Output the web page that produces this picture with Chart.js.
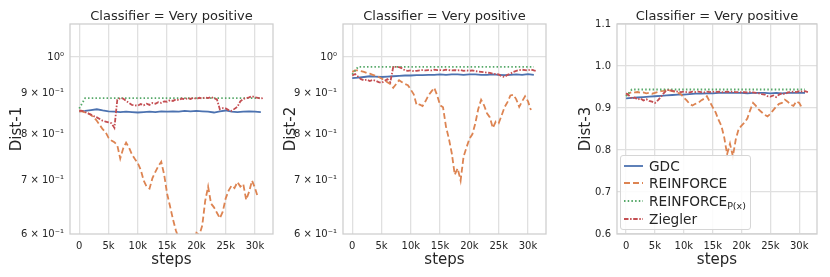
<!DOCTYPE html>
<html>
<head>
<meta charset="utf-8">
<script src="https://cdn.jsdelivr.net/npm/chart.js@4.4.1/dist/chart.umd.min.js"></script>
<style>
    body { margin: 0; background: #fff; }
    #wrap { position: relative; width: 830px; height: 277px; font-family: 'DejaVu Sans', sans-serif; color: #262626; }
    .panel { position: absolute; top: 0; }
    #legend { position: absolute; left: 620px; top: 155px; width: 131px; height: 75px; box-sizing: border-box;
              border: 1px solid #d6d6d6; border-radius: 3px; background: rgba(255,255,255,0.85); }
    .row { position: absolute; left: 0; height: 18px; line-height: 18px; font-size: 13.7px; white-space: nowrap; }
    .row svg { position: absolute; left: 3px; top: 4px; }
    .row span { position: absolute; left: 28px; }
    .row sub { font-size: 9.5px; vertical-align: -3px; }
</style>
</head>
<body>
<div id="wrap">
    <div class="panel" style="left:0"><canvas id="dist1" width="280" height="277"></canvas></div>
    <div class="panel" style="left:280px"><canvas id="dist2" width="280" height="277"></canvas></div>
    <div class="panel" style="left:560px"><canvas id="dist3" width="270" height="277"></canvas></div>
    <div id="legend">
        <div class="row" style="top:1px"><svg width="20" height="10"><line x1="0" y1="5" x2="19" y2="5" stroke="#4c72b0" stroke-width="1.8"/></svg><span>GDC</span></div>
        <div class="row" style="top:18px"><svg width="20" height="10"><line x1="0" y1="5" x2="19" y2="5" stroke="#dd8452" stroke-width="1.8" stroke-dasharray="6,3"/></svg><span>REINFORCE</span></div>
        <div class="row" style="top:36px"><svg width="20" height="10"><line x1="0" y1="5" x2="19" y2="5" stroke="#55a868" stroke-width="1.8" stroke-dasharray="1.5,2.2"/></svg><span>REINFORCE<sub>P(x)</sub></span></div>
        <div class="row" style="top:54px"><svg width="20" height="10"><line x1="0" y1="5" x2="19" y2="5" stroke="#c44e52" stroke-width="1.8" stroke-dasharray="4.5,1.6,1.5,1.6"/></svg><span>Ziegler</span></div>
    </div>
</div>
<script>
Chart.defaults.font.family = "'DejaVu Sans', sans-serif";
Chart.defaults.color = '#262626';

// steps
const stepsFine = [0,500,1000,1500,2000,2500,3000,3500,4000,4500,5000,5500,6000,6500,7000,7500,8000,8500,9000,9500,
    10000,10500,11000,11500,12000,12500,13000,13500,14000,14500,15000,15500,16000,16500,17000,17500,18000,18500,19000,19500,
    20000,20500,21000,21500,22000,22500,23000,23500,24000,24500,25000,25500,26000,26500,27000,27500,28000,28500,29000,29500,
    30000,30500,31000,31500];
const stepsCoarse = [0,1000,2000,3000,4000,5000,6000,7000,8000,9000,10000,11000,12000,13000,14000,15000,
    16000,17000,18000,19000,20000,21000,22000,23000,24000,25000,26000,27000,28000,29000,30000,31000];

const xTicks = [0, 5000, 10000, 15000, 20000, 25000, 30000];
const xTickLabels = ['0', '5k', '10k', '15k', '20k', '25k', '30k'];
const logTicks = [0.6, 0.7, 0.8, 0.9, 1.0];
const logTickLabels = ['6 × 10⁻¹', '7 × 10⁻¹', '8 × 10⁻¹', '9 × 10⁻¹', '10⁰'];
const linTicks = [0.6, 0.7, 0.8, 0.9, 1.0, 1.1];
const linTickLabels = ['0.6', '0.7', '0.8', '0.9', '1.0', '1.1'];

// Dist-1
const dist1Gdc = [.855,.856,.858,.860,.857,.855,.854,.853,.854,.853,.852,.853,.854,.853,.855,.854,
    .855,.854,.856,.855,.856,.855,.854,.852,.855,.857,.854,.853,.854,.855,.854,.853];
const dist1Reinforce = [.855,.855,.852,.850,.846,.840,.832,.822,.812,.805,
    .792,.786,.782,.775,.746,.768,.781,.770,.755,.745,
    .736,.722,.700,.688,.684,.705,.718,.730,.739,.712,
    .674,.650,.626,.606,.592,.580,.565,.555,.565,.585,
    .602,.598,.615,.660,.688,.655,.648,.638,.628,.640,
    .665,.680,.690,.685,.697,.688,.693,.662,.678,.700,
    .685,.667];
const dist1Px = [.862,.888,.888,.888,.888,.888,.888,.888,.888,.888,.888,.888,.888,.888,.888,.888,
    .888,.888,.888,.888,.888,.888,.888,.888,.888,.888,.888,.888,.888,.888,.888,.888];
const dist1Ziegler = [.857,.856,.853,.850,.847,.843,.840,.836,.832,.830,
    .828,.826,.815,.884,.888,.887,.881,.876,.871,.870,
    .869,.873,.870,.874,.871,.876,.874,.878,.876,.880,
    .879,.883,.881,.885,.883,.887,.885,.888,.886,.889,
    .886,.889,.887,.890,.888,.891,.888,.885,.860,.863,
    .862,.858,.856,.861,.866,.880,.886,.888,.890,.893,
    .890,.889,.887,.889];

// Dist-2
const dist2Gdc = [.941,.942,.944,.946,.945,.944,.945,.946,.947,.948,.948,.949,.949,.950,.950,.951,
    .950,.951,.951,.950,.951,.951,.950,.950,.951,.950,.949,.950,.951,.950,.952,.950];
const dist2Reinforce = [.958,.962,.962,.960,.958,.955,.953,.950,.947,.944,
    .940,.935,.930,.925,.915,.925,.935,.930,.925,.922,
    .910,.898,.870,.872,.868,.880,.895,.905,.915,.895,
    .870,.865,.818,.790,.757,.712,.725,.700,.750,.770,
    .790,.800,.825,.860,.884,.870,.850,.840,.815,.830,
    .826,.845,.865,.878,.895,.897,.885,.866,.880,.893,
    .880,.858];
const dist2Px = [.951,.972,.972,.972,.972,.972,.972,.972,.972,.972,.972,.972,.972,.972,.972,.972,
    .972,.972,.972,.972,.972,.972,.972,.972,.972,.972,.972,.972,.972,.972,.972,.972];
const dist2Ziegler = [.948,.952,.945,.938,.935,.937,.933,.936,.934,.930,
    .928,.933,.938,.930,.972,.972,.971,.968,.962,.961,
    .962,.960,.961,.962,.963,.962,.963,.962,.964,.963,
    .963,.962,.964,.963,.962,.963,.962,.963,.961,.962,
    .961,.962,.960,.959,.958,.957,.956,.955,.953,.952,
    .951,.946,.944,.950,.953,.958,.961,.963,.964,.963,
    .962,.965,.962,.960];

// Dist-3
const dist3Gdc = [.923,.924,.925,.926,.927,.928,.929,.930,.931,.932,.932,.933,.934,.934,.935,.935,
    .936,.936,.936,.936,.936,.935,.936,.936,.936,.935,.936,.935,.936,.936,.936,.936];
const dist3Reinforce = [.930,.935,.938,.937,.938,.936,.937,.935,.936,.934,
    .936,.938,.940,.941,.943,.942,.940,.938,.936,.933,
    .925,.918,.910,.906,.910,.912,.918,.922,.928,.915,
    .902,.890,.872,.858,.830,.790,.815,.785,.825,.850,
    .858,.865,.875,.895,.912,.905,.896,.890,.884,.880,
    .886,.895,.903,.910,.912,.920,.915,.908,.905,.916,
    .912,.900];
const dist3Px = [.928,.944,.944,.944,.944,.944,.944,.944,.944,.944,.944,.944,.944,.944,.944,.944,
    .944,.944,.944,.944,.944,.944,.944,.944,.944,.944,.944,.944,.944,.944,.944,.944];
const dist3Ziegler = [.935,.930,.922,.925,.920,.923,.918,.921,.917,.915,
    .912,.918,.926,.935,.942,.943,.941,.940,.939,.938,
    .939,.938,.937,.939,.938,.939,.938,.937,.939,.938,
    .939,.938,.939,.938,.938,.939,.938,.939,.938,.938,
    .937,.938,.937,.938,.937,.936,.935,.933,.932,.928,
    .927,.930,.926,.932,.935,.933,.937,.938,.939,.938,
    .940,.939,.940,.938];


function points(steps, values) {
    return values.map((v, i) => ({x: steps[i], y: v}));
}

// frame around the plot area
const framePlugin = {
    id: 'frame',
    afterDraw(chart) {
        const a = chart.chartArea;
        const ctx = chart.ctx;
        ctx.save();
        ctx.strokeStyle = '#cfcfcf';
        ctx.lineWidth = 1.3;
        ctx.strokeRect(a.left, a.top, a.right - a.left, a.bottom - a.top);
        ctx.restore();
    }
};

function makeChart(id, yLabel, gdc, reinforce, px, ziegler, isLog, yAxisWidth, rightPad, yTitlePad) {
    const chart_data = {
        datasets: [{
            label: 'GDC',
            data: points(stepsCoarse, gdc),
            borderColor: '#4c72b0',
            borderWidth: 1.8,
            order: 3
        }, {
            label: 'REINFORCE',
            data: points(stepsFine, reinforce),
            borderColor: '#dd8452',
            borderWidth: 1.8,
            borderDash: [6, 3],
            order: 2
        }, {
            label: 'REINFORCE P(x)',
            data: points(stepsCoarse, px),
            borderColor: '#55a868',
            borderWidth: 1.8,
            borderDash: [1.5, 2.2],
            order: 1
        }, {
            label: 'Ziegler',
            data: points(stepsFine, ziegler),
            borderColor: '#c44e52',
            borderWidth: 1.8,
            borderDash: [4.5, 1.6, 1.5, 1.6],
            order: 0
        }]
    };

    const yTicks = isLog ? logTicks : linTicks;
    const yLabels = isLog ? logTickLabels : linTickLabels;

    const config = {
        type: 'line',
        data: chart_data,
        plugins: [framePlugin],
        options: {
            responsive: false,
            animation: false,
            layout: { padding: { left: 0, right: rightPad, top: 0, bottom: 0 } },
            elements: { point: { radius: 0 }, line: { tension: 0, fill: false } },
            plugins: {
                legend: { display: false },
                tooltip: { enabled: false },
                title: {
                    display: true,
                    text: 'Classifier = Very positive',
                    fullSize: false,
                    color: '#262626',
                    font: { size: 13, weight: 'normal' },
                    padding: { top: 8.4, bottom: 0 }
                }
            },
            scales: {
                x: {
                    type: 'linear',
                    min: -1575,
                    max: 33075,
                    afterBuildTicks: s => { s.ticks = xTicks.map(v => ({value: v})); },
                    afterFit: s => { s.height = 43; },
                    ticks: {
                        padding: 6,
                        font: { size: 10 },
                        callback: (v) => xTickLabels[xTicks.indexOf(v)]
                    },
                    grid: { color: '#e0e0e0', lineWidth: 1.3, drawTicks: false },
                    border: { display: false },
                    title: { display: true, text: 'steps', font: { size: 15 }, padding: { top: 0, bottom: 8 } }
                },
                y: {
                    type: isLog ? 'logarithmic' : 'linear',
                    min: 0.6,
                    max: 1.1,
                    afterBuildTicks: s => { s.ticks = yTicks.map(v => ({value: v})); },
                    afterFit: s => { s.width = yAxisWidth; },
                    ticks: {
                        padding: 6,
                        font: { size: 10 },
                        callback: (v) => yLabels[yTicks.findIndex(t => Math.abs(t - v) < 1e-9)]
                    },
                    grid: {
                        drawTicks: false,
                        lineWidth: 1.3,
                        color: ctx => (!isLog || Math.abs(ctx.tick.value - 1) < 1e-9) ? '#e0e0e0' : 'rgba(0,0,0,0)'
                    },
                    border: { display: false },
                    title: { display: true, text: yLabel, font: { size: 15 }, padding: { top: yTitlePad, bottom: 0 } }
                }
            }
        }
    };

    return new Chart(document.getElementById(id), config);
}

makeChart('dist1', 'Dist-1', dist1Gdc, dist1Reinforce, dist1Px, dist1Ziegler, true, 70, 7, 8);
makeChart('dist2', 'Dist-2', dist2Gdc, dist2Reinforce, dist2Px, dist2Ziegler, true, 63, 14, 2);
makeChart('dist3', 'Dist-3', dist3Gdc, dist3Reinforce, dist3Px, dist3Ziegler, false, 57, 13, 17);
</script>
</body>
</html>
